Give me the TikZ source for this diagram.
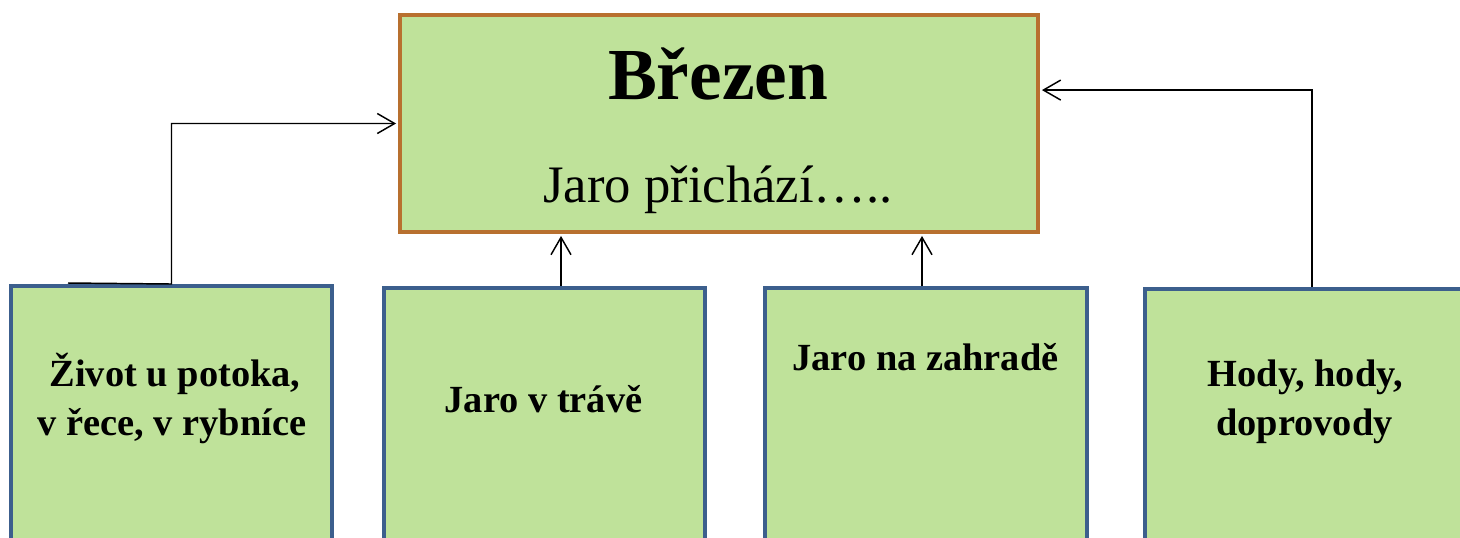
\documentclass[tikz,border=0pt]{standalone}
\usepackage{fontspec}
\setmainfont{Liberation Serif}
\usetikzlibrary{arrows.meta,calc}
\definecolor{boxfill}{HTML}{BFE29A}
\definecolor{mainedge}{HTML}{B8702F}
\definecolor{subedge}{HTML}{3C5F8D}
\tikzset{
  mainbox/.style={draw=mainedge, fill=boxfill, line width=2.9pt, inner sep=0pt},
  subbox/.style={draw=subedge, fill=boxfill, line width=2.9pt, inner sep=0pt, anchor=north,
    minimum width=240.75pt, minimum height=237pt},
  subtext/.style={anchor=base, inner sep=0pt, font=\fontsize{28.8}{34}\selectfont\bfseries},
  conn/.style={draw=black, line width=1.1pt, -{Straight Barb[length=13pt,width=15pt]}, shorten >=1.5pt},
}
\begin{document}
\begin{tikzpicture}[x=0.75pt,y=-0.75pt]
\useasboundingbox (0,0) rectangle (1460,537);
\clip (0,0) rectangle (1460,537);
% main box
\node[mainbox, minimum width=478.5pt, minimum height=162.75pt] (main) at (719,123.5) {};
\node[anchor=base, inner sep=0pt, font=\fontsize{55}{60}\selectfont\bfseries] (title) at (718,99) {Březen};
\node[anchor=base, inner sep=0pt, font=\fontsize{39.5}{44}\selectfont] (sub) at (718,202) {Jaro přichází…..};
% lower boxes
\node[subbox] (b1) at (171.5,284) {};
\node[subbox] (b2) at (544.5,286) {};
\node[subbox, minimum width=241.5pt] (b3) at (926,286) {};
\node[subbox] (b4) at (1305.5,287) {};
% texts
\node[subtext] (t1a) at (175,386) {Život u potoka,};
\node[subtext] (t1b) at (172,435) {v řece, v rybníce};
\node[subtext] (t2) at (543.5,412) {Jaro v trávě};
\node[subtext] (t3) at (925.5,370) {Jaro na zahradě};
\node[subtext] (t4a) at (1305.5,386) {Hody, hody,};
\node[subtext] (t4b) at (1304.5,435) {doprovody};
% connectors
\coordinate (s1) at (68,283);
\coordinate (a2) at ($(b2.north)+(16.5,0)$);
\coordinate (a3) at ($(b3.north)+(-4,0)$);
\coordinate (a4) at ($(b4.north)+(6.5,0)$);
\coordinate (e4) at ($(main.north east)+(0,77)$);
\draw[conn] (s1) -- (b1.north) |- (main.west);
\draw[conn] (a2) -- (a2 |- main.south);
\draw[conn] (a3) -- (a3 |- main.south);
\draw[conn] (a4) |- (e4);
\end{tikzpicture}
\end{document}
